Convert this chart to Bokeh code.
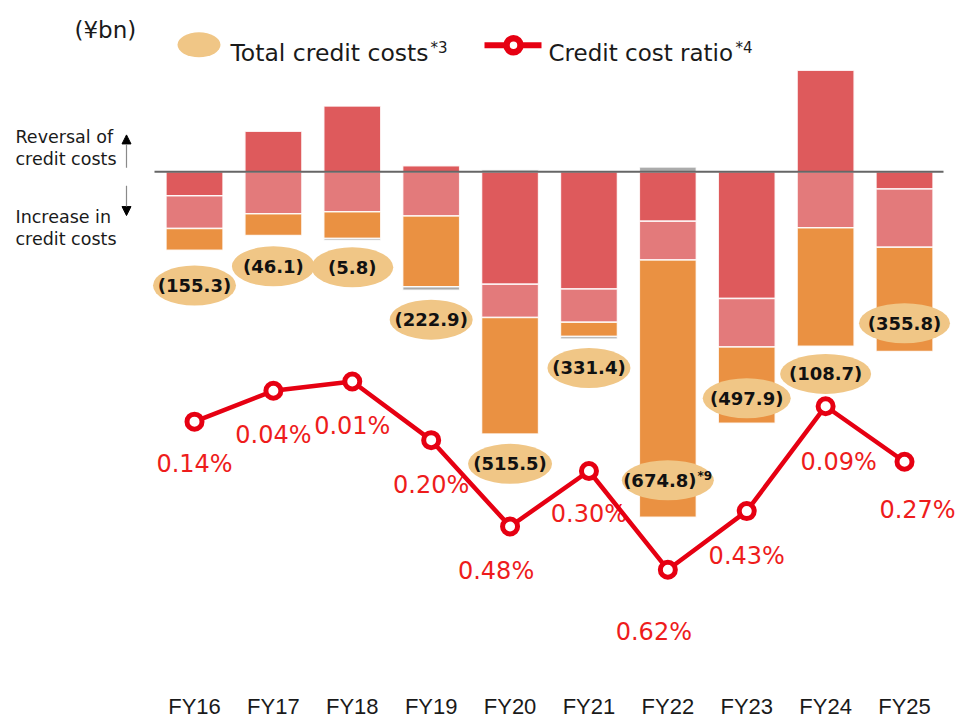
from bokeh.plotting import figure
from bokeh.models import Range1d, FixedTicker, Arrow, NormalHead
from bokeh.core.properties import value
from bokeh.embed import file_html
from bokeh.resources import INLINE

# ---------------- data (¥bn, credit cost ratio in %) ----------------
fiscal_years = ["FY16", "FY17", "FY18", "FY19", "FY20", "FY21", "FY22", "FY23", "FY24", "FY25"]
# stacked components of credit costs (negative = increase in credit costs)
seg_dark = [-47.3, 80.0, 130.2, 11.8, -222.8, -232.2, -98.0, -251.0, 201.1, -34.1]  # FY24 as drawn (clipped)
seg_light = [-65.1, -83.3, -79.0, -87.8, -65.7, -65.7, -76.9, -96.0, -111.0, -115.2]
seg_orange = [-42.9, -42.8, -53.0, -140.0, -230.9, -28.6, -509.2, -150.9, -234.7, -206.5]
seg_other = [0.0, 0.0, -4.0, -6.9, 3.9, -4.9, 9.3, 0.0, 0.0, 0.0]
total_credit_costs = [-155.3, -46.1, -5.8, -222.9, -515.5, -331.4, -674.8, -497.9, -108.7, -355.8]
total_notes = ["", "", "", "", "", "", "*9", "", "", ""]
credit_cost_ratio = [0.14, 0.04, 0.01, 0.20, 0.48, 0.30, 0.62, 0.43, 0.09, 0.27]

# ---------------- layout / style ----------------
FIG_W, FIG_H = 958, 721
MARGIN = 0
BORDER_BOTTOM = 29
X0_PX, DX_PX = 194.0, 78.89          # page x of first category, spacing
BASE_PY, BN_PER_PX = 172.0, 1.972     # page y of zero, bn per pixel
RATIO0_PY, PX_PER_PCT = 379.6, 309.8  # page y of 0%, px per 1%
BAR_W = 57 / DX_PX

C_DARK, C_LIGHT, C_ORANGE, C_OTHER = "#DE5A5C", "#E37A7B", "#EA9142", "#ABABAB"
C_BADGE = "#F0C686"
C_LINE = "#E60012"
C_PCT = "#EE1C1C"
FONT = "DejaVu Sans"


def bx(px):
    return (px - X0_PX) / DX_PX


def by(py):
    return (BASE_PY - py) * BN_PER_PX


frame_bottom_py = MARGIN + FIG_H - BORDER_BOTTOM
p = figure(width=FIG_W, height=FIG_H, output_backend="svg", toolbar_location=None,
           x_range=Range1d(bx(MARGIN), bx(MARGIN + FIG_W)),
           y_range=Range1d(by(frame_bottom_py), by(MARGIN)),
           y_axis_location=None, min_border_left=0, min_border_right=0,
           min_border_top=0, min_border_bottom=BORDER_BOTTOM)
p.extra_y_ranges = {"ratio": Range1d(start=(frame_bottom_py - RATIO0_PY) / PX_PER_PCT,
                                     end=(MARGIN - RATIO0_PY) / PX_PER_PCT)}
p.grid.visible = False
p.outline_line_color = None
p.background_fill_color = "white"
p.border_fill_color = "white"

ax = p.xaxis[0]
ax.ticker = FixedTicker(ticks=list(range(len(fiscal_years))))
ax.major_label_overrides = {i: fy for i, fy in enumerate(fiscal_years)}
ax.major_tick_in = 0
ax.major_tick_out = 0
ax.axis_line_color = None
ax.major_label_standoff = 4
ax.major_label_text_font = "Liberation Sans"
ax.major_label_text_font_size = "22px"
ax.major_label_text_color = "#1a1a1a"

# ---------------- stacked bars ----------------
xs = list(range(len(fiscal_years)))
pos_base = [0.0] * len(xs)
neg_base = [0.0] * len(xs)
for seg, col in [(seg_dark, C_DARK), (seg_light, C_LIGHT), (seg_orange, C_ORANGE), (seg_other, C_OTHER)]:
    sx, sb, st = [], [], []
    for i, v in enumerate(seg):
        if v == 0:
            continue
        if v > 0:
            b, t = pos_base[i], pos_base[i] + v
            pos_base[i] = t
        else:
            b, t = neg_base[i] + v, neg_base[i]
            neg_base[i] = b
        sx.append(xs[i]); sb.append(b); st.append(t)
    p.vbar(x=sx, width=BAR_W, bottom=sb, top=st, fill_color=col,
           line_color="white", line_width=1.5, line_alpha=0.85)
bar_bottom = neg_base[:]

# baseline
p.segment(x0=[bx(154)], x1=[bx(943)], y0=[0], y1=[0], line_color="#666666", line_width=2)

# ---------------- total badges ----------------
badge_dy = [35.5, 31, 27, 29.5, 30, 29, -37, -25, 27.7, -28.3]   # px below bar bottom
badge_w = [83, 83, 82, 83, 84, 83, 92, 88, 91, 91]
badge_y = [bar_bottom[i] - badge_dy[i] * BN_PER_PX for i in xs]
p.ellipse(x=xs, y=badge_y, width=badge_w, height=[40] * len(xs),
          width_units="screen", height_units="screen",
          fill_color=C_BADGE, line_color=None)
labels = [f"({abs(t):.1f})" for t in total_credit_costs]
lab_dx = [-8 if n else 0 for n in total_notes]
p.text(x=xs, y=badge_y, text=labels, x_offset=lab_dx, text_align="center",
       text_baseline="middle", text_font=value(FONT), text_font_style="bold",
       text_font_size="18px", text_color="#111111")
nx = [xs[i] for i in xs if total_notes[i]]
ny = [badge_y[i] for i in xs if total_notes[i]]
nt = [total_notes[i] for i in xs if total_notes[i]]
p.text(x=nx, y=ny, text=nt, x_offset=37, y_offset=-4, text_align="center",
       text_baseline="middle", text_font=value(FONT), text_font_style="bold",
       text_font_size="12px", text_color="#111111")

# ---------------- ratio line ----------------
pct_dx = [0, 0, 0, 0, -14, 0, -14, 0, 13, 13]
pct_dy = [42.5, 44.5, 44, 44.5, 44.5, 43, 62.5, 44.5, 55.5, 48]
p.text(x=xs, y=credit_cost_ratio, text=[f"{r:.2f}%" for r in credit_cost_ratio],
       x_offset=pct_dx, y_offset=pct_dy, y_range_name="ratio",
       text_align="center", text_baseline="middle", text_font=value(FONT),
       text_font_size="24px", text_color=C_PCT)
p.line(x=xs, y=credit_cost_ratio, y_range_name="ratio", line_color=C_LINE, line_width=4.5)
p.scatter(x=xs, y=credit_cost_ratio, y_range_name="ratio", marker="circle", size=15,
          fill_color="white", line_color=C_LINE, line_width=5)

# ---------------- legend / annotations ----------------
p.text(x=[bx(74)], y=[by(30)], text=["(¥bn)"], text_font=value(FONT), text_font_size="23px",
       text_color="#1a1a1a", text_baseline="alphabetic")
p.ellipse(x=[bx(198.5)], y=[by(44.5)], width=[43], height=[25], width_units="screen",
          height_units="screen", fill_color=C_BADGE, line_color=None)
p.text(x=[bx(230)], y=[by(53)], text=["Total credit costs"], text_font=value(FONT),
       text_font_size="23.5px", text_color="#1a1a1a", text_baseline="alphabetic")
p.text(x=[bx(430)], y=[by(47.5)], text=["*3"], text_font=value(FONT),
       text_font_size="15px", text_color="#1a1a1a", text_baseline="alphabetic")
p.segment(x0=[bx(484)], x1=[bx(541)], y0=[by(45)], y1=[by(45)], line_color=C_LINE, line_width=6)
p.scatter(x=[bx(513)], y=[by(45)], marker="circle", size=14, fill_color="white",
          line_color=C_LINE, line_width=6.5)
p.text(x=[bx(548)], y=[by(53)], text=["Credit cost ratio"], text_font=value(FONT),
       text_font_size="23px", text_color="#1a1a1a", text_baseline="alphabetic")
p.text(x=[bx(735)], y=[by(47.5)], text=["*4"], text_font=value(FONT),
       text_font_size="15px", text_color="#1a1a1a", text_baseline="alphabetic")

side_txt = ["Reversal of", "credit costs", "Increase in", "credit costs"]
side_base = [137, 159.5, 217, 239.5]
p.text(x=[bx(15)] * 4, y=[by(b) for b in side_base], text=side_txt, text_font=value(FONT),
       text_font_size="17.5px", text_color="#1a1a1a", text_baseline="alphabetic")
p.add_layout(Arrow(end=NormalHead(size=9, fill_color="black", line_color="black"),
                   x_start=bx(126), y_start=by(168), x_end=bx(126), y_end=by(135),
                   line_color="#8a8a8a", line_width=1.2))
p.add_layout(Arrow(end=NormalHead(size=9, fill_color="black", line_color="black"),
                   x_start=bx(126), y_start=by(186), x_end=bx(126), y_end=by(216),
                   line_color="#8a8a8a", line_width=1.2))

open("out.html", "w").write(file_html(p, INLINE))
